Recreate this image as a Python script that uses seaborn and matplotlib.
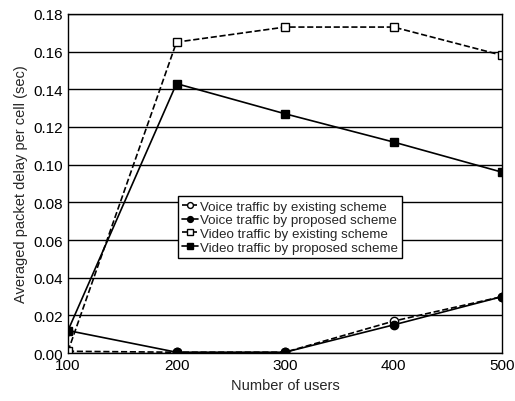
import numpy as np
import pandas as pd
import matplotlib
matplotlib.use("Agg")
import matplotlib.pyplot as plt
import seaborn as sns

users = [100, 200, 300, 400, 500]
voice_existing = [0.001, 0.0005, 0.0005, 0.017, 0.030]
voice_proposed = [0.012, 0.0005, 0.0005, 0.015, 0.030]
video_existing = [0.001, 0.165, 0.173, 0.173, 0.158]
video_proposed = [0.012, 0.143, 0.127, 0.112, 0.096]

series = [
    ("Voice traffic by existing scheme", voice_existing, "--", "o", "white"),
    ("Voice traffic by proposed scheme", voice_proposed, "-", "o", "black"),
    ("Video traffic by existing scheme", video_existing, "--", "s", "white"),
    ("Video traffic by proposed scheme", video_proposed, "-", "s", "black"),
]

sns.set_style("white")
plt.rcParams["font.family"] = ["Liberation Sans", "DejaVu Sans"]

fig = plt.figure(figsize=(5.15, 4.02), dpi=100)
ax = fig.add_axes([0.132, 0.119, 0.843, 0.844])

for label, vals, ls, mk, fc in series:
    df = pd.DataFrame({"users": users, "delay": vals})
    sns.lineplot(data=df, x="users", y="delay", ax=ax, color="black",
                 linestyle=ls, linewidth=1.2, marker=mk, markersize=6,
                 markerfacecolor=fc, markeredgecolor="black",
                 markeredgewidth=1.0, label=label)

ax.set_xlim(100, 500)
ax.set_ylim(0, 0.18)
ax.set_xticks(users)
ax.set_yticks(np.arange(0, 0.181, 0.02))
ax.yaxis.set_major_formatter(matplotlib.ticker.FormatStrFormatter("%.2f"))
ax.grid(axis="y", color="black", linewidth=1.0)
ax.grid(axis="x", visible=False)
for sp in ax.spines.values():
    sp.set_color("black")
    sp.set_linewidth(1.0)
ax.tick_params(labelsize=11, colors="black", length=0)
ax.set_xlabel("Number of users", fontsize=10.5)
ax.set_ylabel("Averaged packet delay per cell (sec)", fontsize=10.5)

leg = ax.legend(loc="center left", bbox_to_anchor=(0.253, 0.372),
                fontsize=9.6, frameon=True, fancybox=False,
                edgecolor="black", handlelength=1.2, handletextpad=0.2,
                borderpad=0.3, labelspacing=0.1, borderaxespad=0,
                markerscale=0.7)
leg.get_frame().set_linewidth(1.0)
leg.get_frame().set_alpha(1)

fig.savefig("out.png", dpi=100)
